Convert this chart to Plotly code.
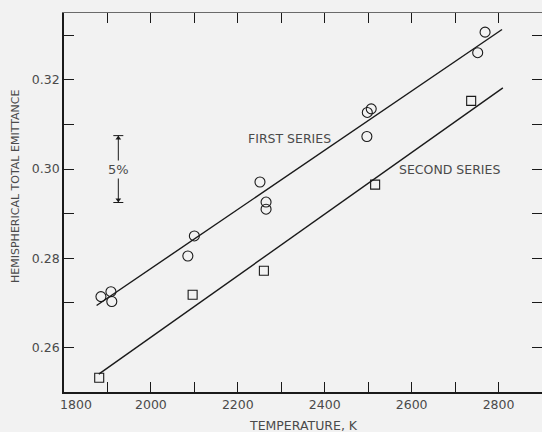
import plotly.graph_objects as go

# First series (circles)
t1 = [1885, 1908, 1910, 2085, 2100, 2251, 2265, 2265, 2497, 2498, 2507, 2752, 2769]
e1 = [0.2714, 0.2725, 0.2703, 0.2805, 0.2850, 0.2971, 0.2926, 0.2910, 0.3073, 0.3127, 0.3135, 0.3261, 0.3307]
# Second series (squares)
t2 = [1881, 2096, 2260, 2516, 2737]
e2 = [0.2532, 0.2718, 0.2772, 0.2965, 0.3153]
# Fitted lines (endpoints)
fit1_t = [1875, 2808]
fit1_e = [0.2694, 0.3313]
fit2_t = [1880, 2810]
fit2_e = [0.2540, 0.3182]
# 5% reference bar
bar_t = 1925
bar_center = 0.300
bar_half = 0.0075

x_ticks = list(range(1800, 2901, 100))
x_labels = ["\u2007\u2007\u20071800" if v == 1800 else (str(v) if v % 200 == 0 and v < 2900 else "")
            for v in x_ticks]
y_ticks = [0.25, 0.26, 0.27, 0.28, 0.29, 0.30, 0.31, 0.32, 0.33]
y_labels = ["", "0.26", "", "0.28", "", "0.30", "", "0.32", ""]
x_range = [1800, 2900]
y_range = [0.25, 0.335]

bg = "#f2f2f2"
ink = "#1a1a1a"
txt = "#4a4a4a"
font = "DejaVu Sans"

fig = go.Figure()
fig.add_trace(go.Scatter(x=fit1_t, y=fit1_e, mode="lines",
                         line=dict(color=ink, width=1.4), showlegend=False))
fig.add_trace(go.Scatter(x=fit2_t, y=fit2_e, mode="lines",
                         line=dict(color=ink, width=1.4), showlegend=False))
fig.add_trace(go.Scatter(x=t1, y=e1, mode="markers",
                         marker=dict(symbol="circle-open", size=10, color=ink,
                                     line=dict(width=1.1)), showlegend=False))
fig.add_trace(go.Scatter(x=t2, y=e2, mode="markers",
                         marker=dict(symbol="square-open", size=9, color=ink,
                                     line=dict(width=1.1)), showlegend=False))
# 5% bar
fig.add_trace(go.Scatter(x=[bar_t], y=[bar_center], mode="markers",
                         marker=dict(size=1, color="rgba(0,0,0,0)"),
                         error_y=dict(type="constant", value=bar_half, color=ink,
                                      thickness=1, width=5),
                         showlegend=False))
fig.add_trace(go.Scatter(x=[bar_t, bar_t], y=[bar_center + bar_half - 0.0006, bar_center - bar_half + 0.0006],
                         mode="markers",
                         marker=dict(symbol=["triangle-up", "triangle-down"], size=5, color=ink),
                         showlegend=False))
# empty trace to carry the mirrored top/right axes
fig.add_trace(go.Scatter(x=[], y=[], xaxis="x2", yaxis="y2", showlegend=False))

fig.add_annotation(x=bar_t, y=bar_center, text="5%", showarrow=False,
                   bgcolor=bg, borderpad=1, font=dict(family=font, size=13, color=txt))
fig.add_annotation(x=2320, y=0.3068, text="FIRST SERIES", showarrow=False,
                   xanchor="center", font=dict(family=font, size=12.5, color=txt))
fig.add_annotation(x=2686, y=0.3000, text="SECOND SERIES", showarrow=False,
                   xanchor="center", font=dict(family=font, size=12.5, color=txt))
# axis titles
fig.add_annotation(xref="paper", yref="paper", x=0, y=0.541, xshift=-48,
                   text="HEMISPHERICAL TOTAL EMITTANCE", textangle=-90, showarrow=False,
                   xanchor="center", yanchor="middle",
                   font=dict(family=font, size=11, color=txt))
fig.add_annotation(xref="paper", yref="paper", x=0.5, y=0, yshift=-33,
                   text="TEMPERATURE, K", showarrow=False,
                   xanchor="center", yanchor="middle",
                   font=dict(family=font, size=12.5, color=txt))

fig.update_layout(
    width=542, height=432,
    margin=dict(l=64, r=0, t=13, b=40),
    paper_bgcolor=bg, plot_bgcolor=bg,
    font=dict(family=font, size=12, color=txt),
    showlegend=False,
    xaxis=dict(range=x_range, tickvals=x_ticks, ticktext=x_labels,
               ticks="inside", ticklen=10, tickwidth=1.2, tickcolor=ink,
               showline=True, linecolor=ink, linewidth=1.8,
               showgrid=False, zeroline=False,
               tickfont=dict(family=font, size=12.5, color=txt)),
    yaxis=dict(range=y_range, tickvals=y_ticks, ticktext=y_labels,
               ticks="inside", ticklen=10, tickwidth=1.2, tickcolor=ink,
               showline=True, linecolor=ink, linewidth=1.8,
               showgrid=False, zeroline=False,
               tickfont=dict(family=font, size=12.5, color=txt)),
    xaxis2=dict(range=x_range, tickvals=x_ticks, overlaying="x", side="top",
                ticks="inside", ticklen=10, tickwidth=1.2, tickcolor=ink,
                showline=True, linecolor="#6a6a6a", linewidth=1,
                showticklabels=False, showgrid=False, zeroline=False),
    yaxis2=dict(range=y_range, tickvals=y_ticks, overlaying="y", side="right",
                ticks="inside", ticklen=10, tickwidth=1.2, tickcolor=ink,
                showline=False, showticklabels=False, showgrid=False, zeroline=False),
)

fig.write_html("out.html")
